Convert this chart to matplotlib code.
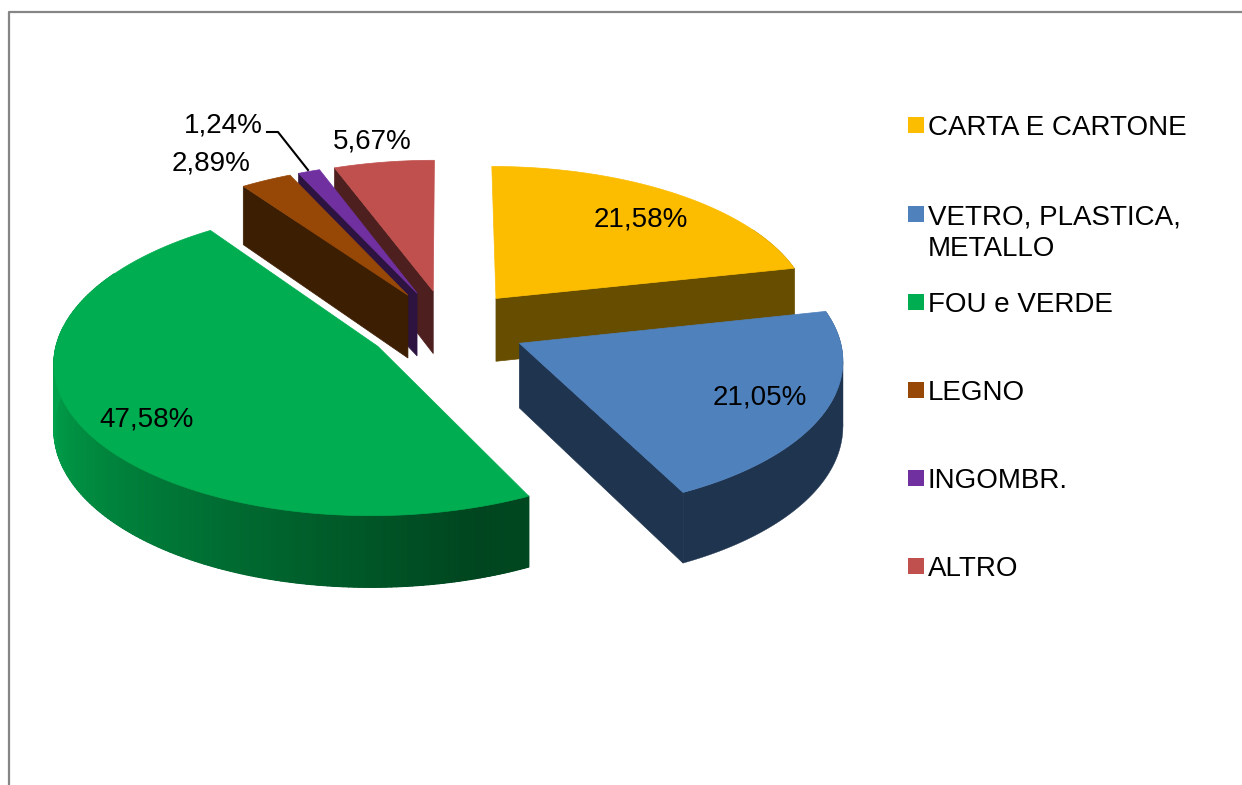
# Exploded 3D style pie, projected by hand because matplotlib has no 3D pie
import numpy as np
import matplotlib
matplotlib.use("Agg")
import matplotlib.pyplot as plt
from matplotlib.collections import PolyCollection
from matplotlib.colors import to_rgb
from matplotlib.patches import Polygon, Rectangle

plt.rcParams['font.family'] = ['Liberation Sans', 'DejaVu Sans']

categories = ["CARTA E CARTONE", "VETRO, PLASTICA,\nMETALLO", "FOU e VERDE", "LEGNO", "INGOMBR.", "ALTRO"]
values = [21.58, 21.05, 47.58, 2.89, 1.24, 5.67]
value_labels = ["21,58%", "21,05%", "47,58%", "2,89%", "1,24%", "5,67%"]

top_colors = ["#fcbc00", "#4f81bd", "#00ad50", "#974806", "#7030a0", "#c0504d"]
side_colors = ["#664d00", "#1f344f", "#00451f", "#3c1e03", "#2c1340", "#4d201f"]

# pixel layout of the pie
CX, CY = 447, 327
R = 318
TILT = 0.47
PERSP = 0.094
EXPLODE = 0.25
DEPTH = 64

label_pos = [(641, 220), (760, 397), (147, 419), (211, 164), (223, 126), (372, 142)]
legend_y = [125, 214, 302, 390, 478, 566]


def project(u, v, drop=0.0):
    s = 1 / (1 + PERSP * v)
    return CX + R * u * s, CY - R * TILT * v * s + drop * s


def green_wall(t):
    # lighter on the left of the wall, darkest just before the right end
    light = np.array(to_rgb("#00a24b"))
    dark = np.array(to_rgb("#00451f"))
    if t < 162:
        return tuple(dark + (light - dark) * (162 - t) / 60 * 0.2)
    return tuple(dark + (light - dark) * min((t - 162) / 100, 1))


def wall_pieces(upper, lower):
    # a band folded at the side of the ellipse cancels itself when filled,
    # so cut it where x turns around
    xs = np.array([p[0] for p in upper])
    turns = np.where(np.diff(np.sign(np.diff(xs))) != 0)[0] + 1
    cuts = [0] + list(turns) + [len(upper) - 1]
    for a, b in zip(cuts[:-1], cuts[1:]):
        yield upper[a:b + 1] + lower[a:b + 1][::-1]


fig = plt.figure(figsize=(12.42, 7.85), dpi=100)
ax = fig.add_axes([0, 0, 1, 1])
ax.set_xlim(0, 1242)
ax.set_ylim(785, 0)
ax.axis('off')

# chart frame, only top and left show in the crop
ax.plot([8.5, 8.5, 1242], [785, 11.5, 11.5], color="#868686", lw=1.6)

ends = np.cumsum(values) / sum(values) * 360
starts = np.concatenate([[0], ends[:-1]])

# painter's order, back slices first
mids = (starts + ends) / 2
order = np.argsort(-np.cos(np.radians(mids)))

for i in order:
    a0, a1 = starts[i], ends[i]
    mid = np.radians(mids[i])
    ou, ov = EXPLODE * np.sin(mid), EXPLODE * np.cos(mid)

    th = np.radians(np.linspace(a0, a1, 200))
    us = ou + np.sin(th)
    vs = ov + np.cos(th)

    # radial walls, only the ones facing the viewer
    wall_angles = []
    if a0 > 180:
        wall_angles.append(a0)
    if a1 < 180:
        wall_angles.append(a1)
    for a in wall_angles:
        r = np.radians(a)
        u, v = ou + np.sin(r), ov + np.cos(r)
        pts = [project(ou, ov), project(u, v), project(u, v, DEPTH), project(ou, ov, DEPTH)]
        ax.add_patch(Polygon(pts, closed=True, fc=side_colors[i], ec=side_colors[i], lw=0.5))

    # outer curved wall, solid shape first so the strips leave no seams
    # the range goes past the sides of the ellipse, the top face hides the extra
    front = np.degrees(th) > 60
    front &= np.degrees(th) < 300
    if front.sum() > 1:
        upper = [project(u, v) for u, v in zip(us[front], vs[front])]
        lower = [project(u, v, DEPTH) for u, v in zip(us[front], vs[front])]
        for piece in wall_pieces(upper, lower):
            ax.add_patch(Polygon(piece, closed=True, fc=side_colors[i], ec=side_colors[i], lw=0.3))
        if i == 2:
            strips, colors = [], []
            for k in range(len(upper) - 1):
                strips.append([upper[k], upper[k + 1], lower[k + 1], lower[k]])
                colors.append(green_wall(np.degrees(th[front][k])))
            ax.add_collection(PolyCollection(strips, facecolors=colors, edgecolors=colors, linewidths=0.9))

    # top face
    top = [project(ou, ov)] + [project(u, v) for u, v in zip(us, vs)]
    ax.add_patch(Polygon(top, closed=True, fc=top_colors[i], ec=top_colors[i], lw=0.5))

for lab, (x, y) in zip(value_labels, label_pos):
    ax.text(x, y, lab, fontsize=20, color="black", ha='center', va='center')

# leader line of the small slice
ax.plot([267, 278, 308], [132, 132, 170], color="black", lw=1.5)

# legend
for cat, col, y in zip(categories, top_colors, legend_y):
    ax.add_patch(Rectangle((908, y - 8), 16, 16, fc=col, ec='none'))
    ax.text(928, y - 10, cat, fontsize=20, color="black", ha='left', va='top', linespacing=1.28)

fig.savefig("out.png", dpi=100)
